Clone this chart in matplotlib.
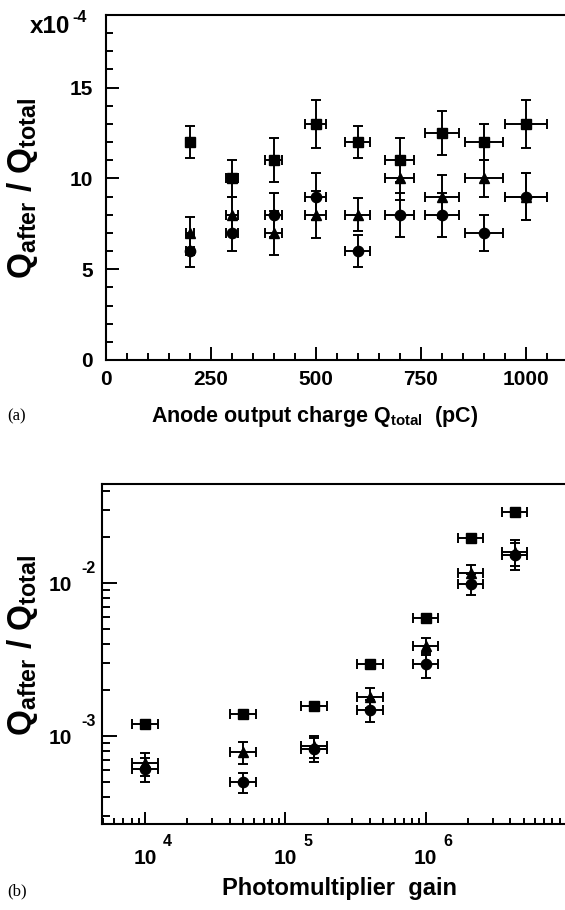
import matplotlib
matplotlib.use("Agg")
import matplotlib.pyplot as plt
import matplotlib.transforms as mtransforms
from matplotlib.ticker import MultipleLocator, LogLocator, NullFormatter

# --- (a) afterpulse ratio vs anode charge, values in units of 1e-4 ---
charge = [200, 300, 400, 500, 600, 700, 800, 900, 1000]
charge_err = [10, 15, 20, 25, 30, 35, 40, 45, 50]
ratio_sq = [12, 10, 11, 13, 12, 11, 12.5, 12, 13]
ratio_sq_err = [0.9, 1.0, 1.2, 1.3, 0.9, 1.2, 1.2, 1.0, 1.3]
ratio_tri = [7, 8, 7, 8, 8, 10, 9, 10, 9]
ratio_tri_err = [0.9, 1.0, 1.2, 1.3, 0.9, 1.2, 1.2, 1.0, 1.3]
ratio_circ = [6, 7, 8, 9, 6, 8, 8, 7, 9]
ratio_circ_err = [0.9, 1.0, 1.2, 1.3, 0.9, 1.2, 1.2, 1.0, 1.3]
xticks_a = [0, 250, 500, 750, 1000]
yticks_a = [0, 5, 10, 15]

# --- (b) afterpulse ratio vs photomultiplier gain ---
gain = [1e4, 5e4, 1.6e5, 4e5, 1e6, 2.1e6, 4.3e6]
gain_lo = [1.9e3, 9.5e3, 3.0e4, 7.6e4, 1.9e5, 4.0e5, 8.2e5]
gain_hi = [2.3e3, 1.15e4, 3.7e4, 9.2e4, 2.3e5, 4.8e5, 9.9e5]
gain_sq = [1.19e-3, 1.40e-3, 1.58e-3, 2.94e-3, 5.9e-3, 1.97e-2, 2.93e-2]
gain_tri = [6.6e-4, 7.8e-4, 8.6e-4, 1.79e-3, 3.9e-3, 1.16e-2, 1.6e-2]
gain_tri_err = [1.1e-4, 1.3e-4, 1.4e-4, 2.6e-4, 5e-4, 1.6e-3, 3e-3]
gain_circ = [6.1e-4, 5.0e-4, 8.2e-4, 1.48e-3, 2.95e-3, 9.9e-3, 1.52e-2]
gain_circ_err = [1.1e-4, 0.75e-4, 1.5e-4, 2.4e-4, 5.5e-4, 1.6e-3, 3e-3]
xdecades_b = [1e4, 1e5, 1e6]
xexp_b = ["4", "5", "6"]
ydecades_b = [1e-3, 1e-2]
yexp_b = ["-3", "-2"]

W, H = 565, 910

plt.rcParams.update({
    "font.family": ["Liberation Sans", "DejaVu Sans"],
    "font.weight": "bold",
    "mathtext.fontset": "custom",
    "mathtext.rm": "Liberation Sans:bold",
    "mathtext.it": "Liberation Sans:bold",
    "mathtext.bf": "Liberation Sans:bold",
})


def fx(px):
    return px / W


def fy(py):
    return 1 - py / H


def style_axes(ax):
    for side in ("top", "left", "bottom"):
        ax.spines[side].set_linewidth(1.5)
    ax.spines["right"].set_visible(False)
    ax.tick_params(which="both", direction="in", width=1.4,
                   top=False, right=False)


ebkw = dict(color="black", linestyle="none", elinewidth=1.4,
            capsize=3.8, capthick=1.4)

fig = plt.figure(figsize=(W / 100, H / 100), dpi=100)

# ---------------- panel (a) ----------------
ax1 = fig.add_axes([fx(106), fy(360), (567.7 - 106) / W, (360 - 15) / H])
ax1.errorbar(charge, ratio_circ, yerr=ratio_circ_err, xerr=charge_err,
             marker="o", ms=7.4, **ebkw)
ax1.errorbar(charge, ratio_tri, yerr=ratio_tri_err, xerr=charge_err,
             marker="^", ms=7.4, **ebkw)
ax1.errorbar(charge, ratio_sq, yerr=ratio_sq_err, xerr=charge_err,
             marker="s", ms=7.2, **ebkw)
ax1.set_xlim(0, 1100)
ax1.set_ylim(0, 19)
ax1.set_xticks(xticks_a)
ax1.set_yticks(yticks_a)
ax1.xaxis.set_minor_locator(MultipleLocator(50))
ax1.yaxis.set_minor_locator(MultipleLocator(1))
style_axes(ax1)
ax1.tick_params(which="major", length=9.5, labelsize=15)
ax1.tick_params(which="minor", length=5)
ax1.tick_params(axis="y", pad=9.4)
ax1.tick_params(axis="x", pad=7)

fig.text(fx(30), fy(33.3), "x10", fontsize=17.5, ha="left", va="baseline")
fig.text(fx(72), fy(21.7), "-4", fontsize=11.5, ha="left", va="baseline")
fig.text(fx(151), fy(422), r"Anode output charge Q$_{\rm total}$  (pC)",
         fontsize=15.5, ha="left", va="baseline")
fig.text(fx(23), fy(188), r"Q$_{\rm after}$ / Q$_{\rm total}$",
         fontsize=24, rotation=90, ha="center", va="center")
fig.text(fx(7), fy(420), "(a)", family="Liberation Serif", weight="normal",
         fontsize=12, ha="left", va="baseline")

# ---------------- panel (b) ----------------
ax2 = fig.add_axes([fx(101.7), fy(824), (566 - 101.7) / W, (824 - 484) / H])
ax2.set_xscale("log")
ax2.set_yscale("log")
ax2.errorbar(gain, gain_circ, yerr=gain_circ_err, xerr=[gain_lo, gain_hi],
             marker="o", ms=7.4, **ebkw)
ax2.errorbar(gain, gain_tri, yerr=gain_tri_err, xerr=[gain_lo, gain_hi],
             marker="^", ms=7.4, **ebkw)
ax2.errorbar(gain, gain_sq, xerr=[gain_lo, gain_hi],
             marker="s", ms=7.2, **ebkw)
ax2.set_xlim(4.9e3, 1e7)
ax2.set_ylim(2.65e-4, 4.45e-2)
ax2.xaxis.set_major_locator(LogLocator(base=10, numticks=10))
ax2.xaxis.set_minor_locator(LogLocator(base=10, subs=range(2, 10), numticks=20))
ax2.yaxis.set_major_locator(LogLocator(base=10, numticks=10))
ax2.yaxis.set_minor_locator(LogLocator(base=10, subs=range(2, 10), numticks=20))
ax2.xaxis.set_minor_formatter(NullFormatter())
ax2.yaxis.set_minor_formatter(NullFormatter())
style_axes(ax2)
ax2.tick_params(labelbottom=False, labelleft=False)
ax2.tick_params(axis="x", which="major", length=8.5)
ax2.tick_params(axis="x", which="minor", length=4)
ax2.tick_params(axis="y", which="major", length=10.5)
ax2.tick_params(axis="y", which="minor", length=5.5)

# decade labels drawn as "10" plus a detached exponent
xb = mtransforms.blended_transform_factory(ax2.transData, ax2.transAxes)
yb = mtransforms.blended_transform_factory(ax2.transAxes, ax2.transData)
for v, e in zip(xdecades_b, xexp_b):
    ax2.text(v, 0, "10", fontsize=15, ha="center", va="baseline",
             transform=mtransforms.offset_copy(xb, fig=fig, x=0, y=-40, units="dots"))
    ax2.text(v, 0, e, fontsize=11.5, ha="left", va="baseline",
             transform=mtransforms.offset_copy(xb, fig=fig, x=17.7, y=-22, units="dots"))
for v, e in zip(ydecades_b, yexp_b):
    ax2.text(0, v, "10", fontsize=15, ha="right", va="baseline",
             transform=mtransforms.offset_copy(yb, fig=fig, x=-30, y=-8, units="dots"))
    ax2.text(0, v, e, fontsize=11.5, ha="left", va="baseline",
             transform=mtransforms.offset_copy(yb, fig=fig, x=-20, y=9.7, units="dots"))

fig.text(fx(340), fy(895), "Photomultiplier  gain", fontsize=17,
         ha="center", va="baseline")
fig.text(fx(23), fy(645), r"Q$_{\rm after}$ / Q$_{\rm total}$",
         fontsize=24, rotation=90, ha="center", va="center")
fig.text(fx(7), fy(895), "(b)", family="Liberation Serif", weight="normal",
         fontsize=12, ha="left", va="baseline")

fig.savefig("out.png", dpi=100)
